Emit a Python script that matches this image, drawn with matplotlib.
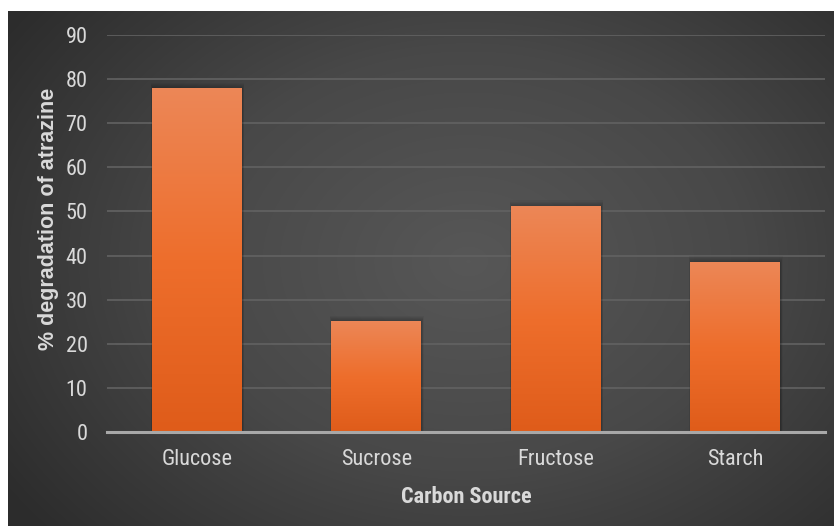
import numpy as np
import matplotlib
matplotlib.use("Agg")
import matplotlib.pyplot as plt
from matplotlib.colors import LinearSegmentedColormap
from matplotlib import font_manager

categories = ["Glucose", "Sucrose", "Fructose", "Starch"]
degradation = [78.0, 25.2, 51.3, 38.6]
y_ticks = [0, 10, 20, 30, 40, 50, 60, 70, 80, 90]

W, H, DPI = 834, 526, 100
fig = plt.figure(figsize=(W / DPI, H / DPI), dpi=DPI, facecolor="white")

available = {f.name for f in font_manager.fontManager.ttflist}
narrow = next((n for n in ["Roboto Condensed", "Archivo Narrow", "Liberation Sans Narrow",
                           "Sofia Sans Condensed"] if n in available), "DejaVu Sans")
text_col = "#d9d9d9"

# dark radial-gradient panel behind the chart
bg = fig.add_axes([8 / W, 0, (W - 8) / W, (H - 11) / H], zorder=0)
bg.set_axis_off()
yy, xx = np.mgrid[0:515, 0:826]
cx, cy = 460, 250
r = np.sqrt(((xx - cx) / 560.0) ** 2 + ((yy - cy) / 420.0) ** 2)
r = np.clip(r, 0, 1)
bg_cmap = LinearSegmentedColormap.from_list("bgc", ["#575757", "#484848", "#2c2c2c"])
bg.imshow(r, cmap=bg_cmap, vmin=0, vmax=1, aspect="auto", interpolation="bilinear")

ax = fig.add_axes([107 / W, 1 - 432 / H, (825 - 107) / W, (432 - 35) / H], zorder=1)
ax.set_facecolor("none")

x = np.arange(len(categories))
bar_w = 0.5

# soft halo around each bar
for xi, v in zip(x, degradation):
    for k in range(1, 7):
        dx = 0.0018 * k
        dy = 0.25 * k
        ax.add_patch(plt.Rectangle((xi - bar_w / 2 - dx + 0.004, 0), bar_w + 2 * dx,
                                   v + dy - 0.3, color="black", alpha=0.045, lw=0, zorder=2))

bars = ax.bar(x, degradation, width=bar_w, color="#ee7030", zorder=3, linewidth=0)

bar_cmap = LinearSegmentedColormap.from_list("barc", ["#df5c1a", "#ee6e2c", "#ec8757"])
grad = np.linspace(0, 1, 256).reshape(-1, 1)
for b in bars:
    x0, w, h = b.get_x(), b.get_width(), b.get_height()
    im = ax.imshow(grad, cmap=bar_cmap, origin="lower", aspect="auto",
                   extent=(x0, x0 + w, 0, h), zorder=4, interpolation="bilinear")
    im.set_clip_path(b)
ax.set_xlim(-0.5, len(categories) - 0.5)
ax.set_ylim(0, 90)

ax.set_yticks(y_ticks)
ax.yaxis.grid(True, color="#626262", linewidth=1.2, zorder=1)
ax.set_axisbelow(True)
for s in ["top", "right", "left"]:
    ax.spines[s].set_visible(False)
ax.spines["bottom"].set_color("#a8a8a8")
ax.spines["bottom"].set_linewidth(2.2)
ax.spines["bottom"].set_zorder(6)

ax.set_xticks(x)
ax.set_xticklabels(categories)
ax.tick_params(axis="both", length=0, colors=text_col)
ax.tick_params(axis="y", pad=14)
ax.tick_params(axis="x", pad=12)
for lab in ax.get_xticklabels() + ax.get_yticklabels():
    lab.set_fontfamily(narrow)
    lab.set_fontsize(16)
    lab.set_color(text_col)

ax.set_ylabel("% degradation of atrazine", fontsize=15.5, fontweight="bold",
              color=text_col, fontfamily="Liberation Sans")
ax.yaxis.set_label_coords(-0.067, 0.537)
ax.set_xlabel("Carbon Source", fontsize=16, fontweight="bold",
              color=text_col, fontfamily=narrow)
ax.xaxis.set_label_coords(0.5, -0.136)

fig.savefig("out.png", dpi=DPI, facecolor="white")
